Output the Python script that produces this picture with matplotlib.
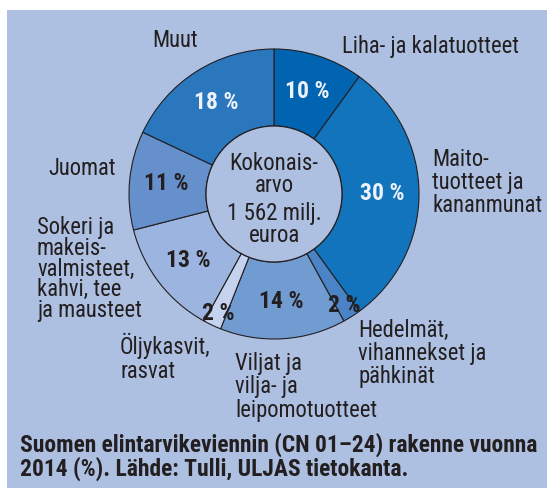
#!/usr/bin/env python

import numpy as np
import matplotlib.pyplot as plt
from matplotlib.patches import Rectangle, Circle

plt.rcParams['font.family'] = ['Roboto Condensed', 'DejaVu Sans']

# Structure of Finnish food exports 2014 (%), clockwise from the top
categories = ['Liha- ja kalatuotteet',
              'Maito-\ntuotteet ja\nkananmunat',
              'Hedelmät,\nvihannekset ja\npähkinät',
              'Viljat ja\nvilja- ja\nleipomotuotteet',
              'Öljykasvit,\nrasvat',
              'Sokeri ja\nmakeis-\nvalmisteet,\nkahvi, tee\nja mausteet',
              'Juomat',
              'Muut']
shares = [10, 30, 2, 14, 2, 13, 11, 18]
colors = ['#0064b0', '#1274bc', '#4a83c6', '#719cd2',
          '#c5d3ee', '#9cb5e0', '#6590cc', '#2b77bd']
total_text = 'Kokonais-\narvo'
total_value = '1 562 milj.\neuroa'
caption = ('Suomen elintarvikeviennin (CN 01–24) rakenne vuonna\n'
           '2014 (%). Lähde: Tulli, ULJAS tietokanta.')

W, H = 547, 495
BG = '#aec0e1'
INK = '#231f20'

fig = plt.figure(figsize=(W / 100, H / 100), dpi=100, facecolor='white')
ax = fig.add_axes([0, 0, 1, 1])


def py(y):
    # pixel rows are measured from the top
    return H - y


def lines(x, y0, text, step, **kw):
    for i, s in enumerate(text.split('\n')):
        ax.text(x, py(y0 + i * step), s, va='baseline', **kw)


ax.add_patch(Rectangle((7, py(488)), W - 7, 478, facecolor=BG,
                       edgecolor='none', zorder=0))

cx, cy = 274, py(194)
r_out, r_in = 145, 68
wedges, _ = ax.pie(shares, colors=colors, startangle=90, counterclock=False,
                   center=(cx, cy), radius=r_out,
                   wedgeprops=dict(width=r_out - r_in, edgecolor=INK,
                                   linewidth=0.8),
                   frame=True)
ax.add_patch(Circle((cx, cy), r_in, facecolor=BG, edgecolor=INK,
                    linewidth=0.9, zorder=3))

# percentage labels inside the ring; the thin slices get theirs pushed out
for w, v in zip(wedges, shares):
    mid = np.deg2rad((w.theta1 + w.theta2) / 2)
    r = 132 if v <= 2 else 108
    dark = w.get_facecolor()[0] < 0.2
    ax.text(cx + r * np.cos(mid), cy + r * np.sin(mid), f'{v} %',
            ha='center', va='center', fontsize=17, fontweight='bold',
            color='#eef2fa' if dark else INK, zorder=4)

lines(274, 170, total_text, 22, ha='center', fontsize=16.5, color=INK, zorder=4)
lines(274, 220, total_value, 21.5, ha='center', fontsize=16.5, color=INK, zorder=4)

# category names around the ring
label_pos = [(342, 53, 22), (432, 166, 23), (358, 337, 23), (235, 370, 23.5),
             (120, 354, 24), (37, 234, 20.8), (48, 175, 22), (152, 47, 22)]
for name, (x, y, step) in zip(categories, label_pos):
    lines(x, y, name, step, fontsize=16.3, color=INK)

lines(20, 452, caption, 23.5, fontsize=16.9, fontweight='bold', color=INK)

ax.set_xlim(0, W)
ax.set_ylim(0, H)
ax.set_aspect('equal', adjustable='box')
ax.axis('off')

fig.savefig('out.png', dpi=100, facecolor='white')
